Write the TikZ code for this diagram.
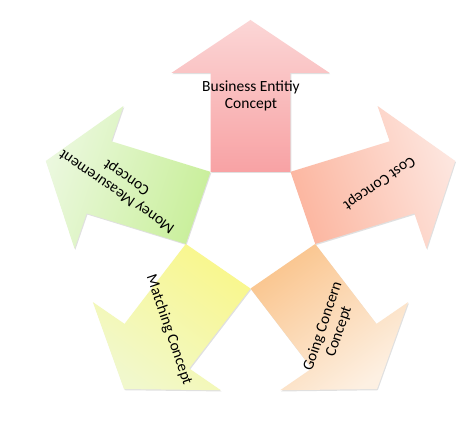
\documentclass[tikz,border=0pt]{standalone}
\usepackage{fontspec}
\setmainfont{Carlito}
\definecolor{pkBase}{HTML}{F8A2A4}
\definecolor{pkTip}{HTML}{FBD6D6}
\definecolor{coBase}{HTML}{FCB6A0}
\definecolor{coTip}{HTML}{FDE6DF}
\definecolor{orBase}{HTML}{FAC58E}
\definecolor{orTip}{HTML}{FDF0E2}
\definecolor{yeBase}{HTML}{F9F78C}
\definecolor{yeTip}{HTML}{F1F8CC}
\definecolor{grBase}{HTML}{C9EF9B}
\definecolor{grTip}{HTML}{EBF8DE}
\tikzset{
  lbl/.style={font=\fontsize{15.5}{17}\selectfont, align=center, text=black, inner sep=0pt},
  shadowfill/.style={fill=black, opacity=0.12},
}
\newcommand{\arrowpath}{(-37.9,52.2) -- (-37.9,151) -- (-75,151) -- (0,204) -- (75,151) -- (37.9,151) -- (37.9,52.2) -- cycle}
\begin{document}
\begin{tikzpicture}[x=1pt,y=1pt]
\useasboundingbox (0,0) rectangle (474,431);
\fill[white] (0,0) rectangle (474,431);
% shadows
\foreach \r in {0,-72,-144,144,72}{
  \begin{scope}[shift={(251.3,205.8)}, xscale=1.055, rotate=\r]
    \fill[shadowfill] \arrowpath;
  \end{scope}
}
% arrows
\begin{scope}[shift={(250.5,207)}, xscale=1.055, rotate=0]
  \shade[bottom color=pkBase, top color=pkTip, shading angle=0] \arrowpath;
\end{scope}
\begin{scope}[shift={(250.5,207)}, xscale=1.055, rotate=-72]
  \shade[bottom color=coBase, top color=coTip, shading angle=-72] \arrowpath;
\end{scope}
\begin{scope}[shift={(250.5,207)}, xscale=1.055, rotate=-144]
  \shade[bottom color=orBase, top color=orTip, shading angle=-144] \arrowpath;
\end{scope}
\begin{scope}[shift={(250.5,207)}, xscale=1.055, rotate=144]
  \shade[bottom color=yeBase, top color=yeTip, shading angle=144] \arrowpath;
\end{scope}
\begin{scope}[shift={(250.5,207)}, xscale=1.055, rotate=72]
  \shade[bottom color=grBase, top color=grTip, shading angle=72] \arrowpath;
\end{scope}
% labels
\node[lbl] (business) at (251,335) {Business Entitiy\\Concept};
\node[lbl, rotate=214.6] (cost) at (379,248) {Cost Concept};
\node[lbl, rotate=71.1] (going) at (331,102) {Going Concern\\Concept};
\node[lbl, rotate=-71.1] (matching) at (169,101) {Matching Concept};
\node[lbl, rotate=145.4] (money) at (122,247) {Money Measurement\\Concept};
\end{tikzpicture}
\end{document}
